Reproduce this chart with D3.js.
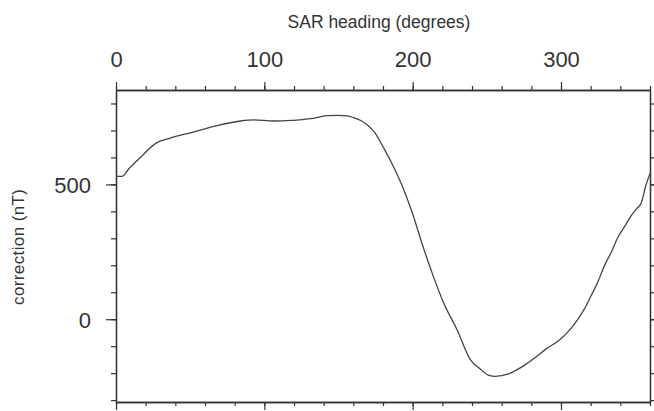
<!DOCTYPE html>
<html>
<head>
<meta charset="utf-8">
<script src="https://cdn.jsdelivr.net/npm/d3@7"></script>
<style>
  body { margin: 0; background: #fff; }
  text { font-family: "Liberation Sans", Arial, sans-serif; fill: #333; }
</style>
</head>
<body>
<div id="chart"></div>
<script>
// Data
const heading = [0, 4, 9, 17, 27, 36, 52, 68, 84, 93, 106, 118, 128, 133, 142, 150, 156, 160, 165, 170, 174, 180, 187, 194, 200, 207, 214, 221, 230, 239, 245, 251, 256, 259, 264, 268, 275, 282, 290, 299, 305, 311, 316, 320, 325, 329, 334, 338, 343, 347, 351, 354, 357, 360];
const correction = [530, 530, 560, 603, 653, 671, 694, 718, 735, 739, 735, 737, 742, 745, 755, 756, 754, 748, 737, 718, 696, 640, 566, 480, 390, 269, 158, 59, -40, -151, -182, -207, -212, -210, -204, -194, -172, -145, -110, -77, -45, -3, 40, 84, 140, 195, 250, 300, 345, 381, 410, 430, 492, 540];
const xMajor = [0, 100, 200, 300];
const xMinor = d3.range(0, 361, 20);
const yMajor = [0, 500];
const yMinor = d3.range(-300, 851, 100);

const width = 654, height = 411;
const svg = d3.select('#chart').append('svg')
  .attr('width', width)
  .attr('height', height);

// Scales
const x = d3.scaleLinear().domain([0, 360]).range([116, 650]);
const y = d3.scaleLinear().domain([-307, 850]).range([402, 90]);

const ink = '#333';

function drawAxis(axisFn, scale, vals, size, labels, transform) {
  const g = svg.append('g')
    .attr('transform', transform)
    .call(axisFn(scale).tickValues(vals).tickSize(size).tickSizeOuter(0)
      .tickFormat(labels ? d3.format('d') : ''));
  g.select('.domain').attr('stroke', ink).attr('stroke-width', 1.3);
  g.selectAll('.tick line').attr('stroke', ink).attr('stroke-width', 1.2);
  return g;
}

// Top axis (labelled)
drawAxis(d3.axisTop, x, xMinor, 4, false, `translate(0,${y.range()[1]})`);
const topAxis = drawAxis(d3.axisTop, x, xMajor, 8, true, `translate(0,${y.range()[1]})`);
topAxis.selectAll('.tick text').attr('font-size', '22px').attr('y', -23).attr('dy', 0);

// Bottom axis
drawAxis(d3.axisBottom, x, xMinor, 4, false, `translate(0,${y.range()[0]})`);
drawAxis(d3.axisBottom, x, xMajor, 8, false, `translate(0,${y.range()[0]})`);

// Left axis (labelled)
drawAxis(d3.axisLeft, y, yMinor, 5, false, `translate(${x.range()[0]},0)`);
const leftAxis = drawAxis(d3.axisLeft, y, yMajor, 10, true, `translate(${x.range()[0]},0)`);
leftAxis.selectAll('.tick text').attr('font-size', '22px').attr('x', -25).attr('dy', '0.36em');

// Right axis
drawAxis(d3.axisRight, y, yMinor, 4, false, `translate(${x.range()[1]},0)`);
drawAxis(d3.axisRight, y, yMajor, 8, false, `translate(${x.range()[1]},0)`);

// Axis titles
svg.append('text')
  .attr('x', 379)
  .attr('y', 28)
  .attr('text-anchor', 'middle')
  .attr('font-size', '17.5px')
  .text('SAR heading (degrees)');

svg.append('text')
  .attr('transform', 'translate(24,247) rotate(-90)')
  .attr('text-anchor', 'middle')
  .attr('font-size', '17px')
  .attr('textLength', 116)
  .attr('lengthAdjust', 'spacing')
  .text('correction (nT)');

// Curve
const line = d3.line()
  .x((d, i) => x(heading[i]))
  .y(d => y(d))
  .curve(d3.curveMonotoneX);

svg.append('path')
  .datum(correction)
  .attr('fill', 'none')
  .attr('stroke', '#444')
  .attr('stroke-width', 1.3)
  .attr('d', line);
</script>
</body>
</html>
